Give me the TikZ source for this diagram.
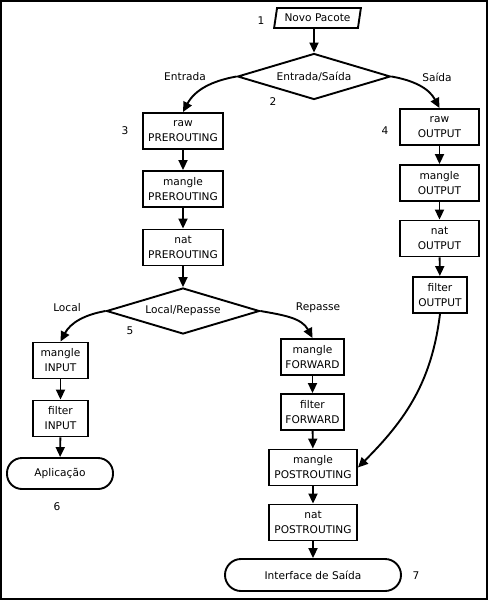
\documentclass[tikz,border=0pt]{standalone}
\usepackage{fontspec}
\setmainfont{DejaVu Sans}
\usetikzlibrary{shapes.geometric,arrows.meta}
\begin{document}
\begin{tikzpicture}[x=1pt,y=1pt,
	font=\fontsize{10.6}{15}\selectfont,
	table/.style={draw, shape=rectangle, line width=1.9pt, align=center, minimum height=36pt, inner sep=0},
	decision/.style={draw, shape=diamond, line width=1.9pt, minimum width=153pt, minimum height=46pt, inner sep=0, aspect=3.4},
	terminal/.style={draw, shape=rectangle, rounded corners=15pt, line width=1.9pt, minimum height=31pt, inner sep=0},
	flow/.style={line width=1.9pt, -{Triangle[width=9pt,length=10pt]}}]
			\useasboundingbox (0,0) rectangle (488,-600);
			\draw[line width=2pt] (1,-1) rectangle (487,-599);
			% start and decisions
			\node[draw, shape=trapezium, trapezium left angle=73, trapezium right angle=107, trapezium stretches=true, line width=1.9pt, minimum width=87pt, minimum height=20pt, inner sep=0] (novo) at (317.5,-18){Novo Pacote};
			\node[decision] (es) at (314,-76.5){Entrada/Saída};
			\node[decision] (lr) at (183,-311){Local/Repasse};
			% tables
			\foreach \name/\x/\y/\w/\tabletext in {rawpre/183/-131/80/raw\\PREROUTING, manpre/183/-189/80/mangle\\PREROUTING, natpre/183/-247.5/80/nat\\PREROUTING,
				rawout/439.5/-127/79/raw\\OUTPUT, manout/439.5/-183/79/mangle\\OUTPUT, natout/439.5/-238.5/79/nat\\OUTPUT, filout/440/-295/54/filter\\OUTPUT,
				manin/60.5/-360.5/55/mangle\\INPUT, filin/60.5/-418.5/55/filter\\INPUT,
				manfwd/312.5/-357/63/mangle\\FORWARD, filfwd/312.5/-412/63/filter\\FORWARD,
				manpost/313/-467.5/88/mangle\\POSTROUTING, natpost/313/-522.5/88/nat\\POSTROUTING}
			{
				\node[table, minimum width=\w pt] (\name) at (\x,\y){\tabletext};
			}
			\node[terminal, minimum width=106pt] (aplic) at (60,-473.5){Aplicação};
			\node[terminal, minimum width=176pt, rounded corners=16pt, minimum height=32pt] (iface) at (313,-575){Interface de Saída};
			% numbers and branch names
			\foreach \name/\x/\y/\labeltext in {n1/261/-21/1, n2/273/-102/2, n3/125/-131/3, n4/385/-131/4, n5/130/-331/5, n6/57/-507/6, n7/416/-576/7,
				entrada/185/-77/Entrada, saida/437/-77/Saída, local/67/-308/Local, repasse/318/-308/Repasse}
			{
				\node (\name) at (\x,\y){\labeltext};
			}
			% straight arrows
			\draw[flow] (novo.south -| es.north) -- (es.north);
			\foreach \a/\b in {rawpre/manpre, manpre/natpre, natpre/lr, rawout/manout, manout/natout, natout/filout,
				manin/filin, filin/aplic, manfwd/filfwd, filfwd/manpost, manpost/natpost, natpost/iface}
			{
				\draw[flow] (\a) -- (\b);
			}
			% branches
			\draw[flow] (es.west) to[out=190, in=62] (rawpre.north);
			\draw[flow] (es.east) to[out=-10, in=118] (rawout.north);
			\draw[flow] (lr.west) to[out=190, in=62] (manin.north);
			\draw[flow] (lr.east) to[out=-10, in=118] (manfwd.north);
			\draw[flow] (filout.south) to[out=-97, in=45] (manpost.east);
		\end{tikzpicture}
\end{document}
